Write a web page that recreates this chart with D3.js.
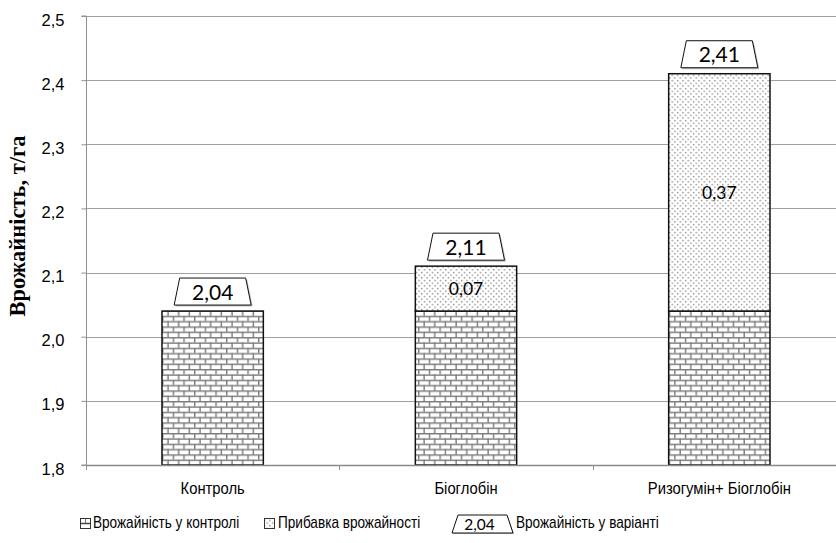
<!DOCTYPE html>
<html>
<head>
<meta charset="utf-8">
<script src="https://cdn.jsdelivr.net/npm/d3@7"></script>
<style>
  html, body { margin: 0; padding: 0; background: #fff; }
  svg { display: block; }
</style>
</head>
<body>
<svg id="chart" width="836" height="543"></svg>
<script>
const categories = ["Контроль", "Біоглобін", "Ризогумін+ Біоглобін"];
const controlYield = [2.04, 2.04, 2.04];
const yieldIncrease = [0, 0.07, 0.37];
const variantYield = [2.04, 2.11, 2.41];
const yTicks = [1.8, 1.9, 2.0, 2.1, 2.2, 2.3, 2.4, 2.5];
const legendLabels = ["Врожайність у контролі", "Прибавка врожайності", "Врожайність у варіанті"];
const legendSample = "2,04";
const yTitle = "Врожайність, т/га";

const W = 836, H = 543;
const margin = { left: 86, top: 16, bottom: 465, right: 846 };
const svg = d3.select("#chart");

const fmt = (v, d) => d3.format("." + d + "f")(v).replace(".", ",");

const x = d3.scaleBand().domain(categories).range([margin.left, margin.right])
  .paddingInner(0.6).paddingOuter(0.3);
const step = x.step();
const y = d3.scaleLinear().domain([1.8, 2.5]).range([margin.bottom, margin.top]);

// patterns
const defs = svg.append("defs");
const bw = 10.67, bh = 5.33, mc = "#7a7a7a";
const brick = defs.append("pattern").attr("id", "brick").attr("patternUnits", "userSpaceOnUse")
  .attr("width", bw).attr("height", bh * 2).attr("x", x(categories[0])).attr("y", margin.bottom);
brick.append("rect").attr("width", bw).attr("height", bh * 2).attr("fill", "#fff");
brick.append("rect").attr("x", 0).attr("y", 0).attr("width", bw).attr("height", 1.4).attr("fill", mc);
brick.append("rect").attr("x", 0).attr("y", bh).attr("width", bw).attr("height", 1.4).attr("fill", mc);
brick.append("rect").attr("x", 0).attr("y", 0).attr("width", 1.4).attr("height", bh).attr("fill", mc);
brick.append("rect").attr("x", bw / 2).attr("y", bh).attr("width", 1.4).attr("height", bh).attr("fill", mc);

const dots = defs.append("pattern").attr("id", "dots").attr("patternUnits", "userSpaceOnUse")
  .attr("width", 5.33).attr("height", 5.33);
dots.append("rect").attr("width", 5.33).attr("height", 5.33).attr("fill", "#fff");
dots.append("rect").attr("x", 0).attr("y", 0).attr("width", 1.33).attr("height", 1.33).attr("fill", "#858585");
dots.append("rect").attr("x", 2.67).attr("y", 2.67).attr("width", 1.33).attr("height", 1.33).attr("fill", "#858585");

// gridlines
svg.append("g").selectAll("line").data(yTicks).join("line")
  .attr("x1", margin.left).attr("x2", W)
  .attr("y1", d => Math.round(y(d)) + 0.5).attr("y2", d => Math.round(y(d)) + 0.5)
  .attr("stroke", "#a0a0a0").attr("stroke-width", 1);

// y axis
const yAxis = d3.axisLeft(y).tickValues(yTicks).tickSize(5).tickFormat(d => fmt(d, 1));
const gy = svg.append("g").attr("transform", `translate(${margin.left + 0.5},0)`).call(yAxis);
gy.select(".domain").attr("stroke", "#909090").attr("d", `M-5,${margin.top}H0V${margin.bottom}H-5`);
gy.selectAll(".tick line").attr("stroke", "#909090");
gy.selectAll(".tick text").attr("x", -22).attr("dy", "0.55em")
  .attr("font-family", "'Liberation Sans', Arial, sans-serif").attr("font-size", 16.5).attr("fill", "#000");

// bars - control part
svg.append("g").selectAll("rect").data(categories).join("rect")
  .attr("x", d => x(d)).attr("width", x.bandwidth())
  .attr("y", (d, i) => y(controlYield[i])).attr("height", (d, i) => y(1.8) - y(controlYield[i]))
  .attr("fill", "url(#brick)").attr("stroke", "#111").attr("stroke-width", 1.5);

// bars - increase part
svg.append("g").selectAll("rect").data(categories.filter((d, i) => yieldIncrease[i] > 0)).join("rect")
  .attr("x", d => x(d)).attr("width", x.bandwidth())
  .attr("y", d => y(controlYield[categories.indexOf(d)] + yieldIncrease[categories.indexOf(d)]))
  .attr("height", d => { const i = categories.indexOf(d); return y(controlYield[i]) - y(controlYield[i] + yieldIncrease[i]); })
  .attr("fill", "url(#dots)").attr("stroke", "#111").attr("stroke-width", 1.5);

// increase labels
svg.append("g").selectAll("text").data(categories.filter((d, i) => yieldIncrease[i] > 0)).join("text")
  .attr("x", d => x(d) + x.bandwidth() / 2)
  .attr("y", d => { const i = categories.indexOf(d); return (y(controlYield[i]) + y(controlYield[i] + yieldIncrease[i])) / 2; })
  .attr("dy", "0.36em").attr("text-anchor", "middle")
  .attr("font-family", "Lato, 'Open Sans', sans-serif").attr("font-size", 17.5).attr("fill", "#000")
  .text(d => fmt(yieldIncrease[categories.indexOf(d)], 2));

// x axis line and ticks
svg.append("line").attr("x1", margin.left).attr("x2", W)
  .attr("y1", margin.bottom + 0.5).attr("y2", margin.bottom + 0.5).attr("stroke", "#8a8a8a").attr("stroke-width", 1.5);
const xb = [0, 1, 2, 3].map(k => margin.left + k * step);
svg.append("g").selectAll("line").data(xb).join("line")
  .attr("x1", d => Math.round(d) + 0.5).attr("x2", d => Math.round(d) + 0.5)
  .attr("y1", margin.bottom).attr("y2", margin.bottom + 5).attr("stroke", "#909090");

// x labels (slightly condensed sans, like Arial Narrow)
svg.append("g").selectAll("text").data(categories).join("text")
  .attr("transform", d => `translate(${x(d) + x.bandwidth() / 2},494) scale(0.87,1)`)
  .attr("text-anchor", "middle")
  .attr("font-family", "'Liberation Sans', Arial, sans-serif").attr("font-size", 17).attr("fill", "#000")
  .text(d => d);

// total labels in trapezoid boxes
function trap(cx, yb, wb, wt, h) {
  return [[cx - wb / 2, yb], [cx - wt / 2, yb - h], [cx + wt / 2, yb - h], [cx + wb / 2, yb]];
}
const boxG = svg.append("g");
categories.forEach((c, i) => {
  const cx = x(c) + x.bandwidth() / 2;
  const yb = y(variantYield[i]) - 6;
  const pts = trap(cx, yb, 77, 66, 27);
  boxG.append("polygon").attr("points", pts.map(p => [p[0] + 1.5, p[1] + 1.5].join(",")).join(" "))
    .attr("fill", "#bbb");
  boxG.append("polygon").attr("points", pts.map(p => p.join(",")).join(" "))
    .attr("fill", "#fff").attr("stroke", "#111").attr("stroke-width", 1);
  boxG.append("text").attr("x", cx).attr("y", yb - 5.5).attr("text-anchor", "middle")
    .attr("font-family", "Lato, 'Open Sans', sans-serif").attr("font-size", 21).attr("fill", "#000")
    .text(fmt(variantYield[i], 2));
});

// y title
svg.append("text").attr("transform", "translate(25,226) rotate(-90)").attr("text-anchor", "middle")
  .attr("font-family", "'Liberation Serif', 'Times New Roman', serif").attr("font-weight", "bold")
  .attr("font-size", 22.5).attr("fill", "#000").text(yTitle);

// legend
const lg = svg.append("g");
const lf = "'Liberation Sans', Arial, sans-serif", lfs = 16, lby = 528, lsx = 0.85;
function legText(xp, t) {
  lg.append("text").attr("transform", `translate(${xp},${lby}) scale(${lsx},1)`)
    .attr("font-family", lf).attr("font-size", lfs).attr("fill", "#000").text(t);
}
lg.append("rect").attr("x", 80.5).attr("y", 518.5).attr("width", 10).attr("height", 10)
  .attr("fill", "#fff").attr("stroke", "#333").attr("stroke-width", 1);
lg.append("line").attr("x1", 81).attr("x2", 90).attr("y1", 523.5).attr("y2", 523.5).attr("stroke", "#444").attr("stroke-width", 1.5);
lg.append("line").attr("x1", 85.5).attr("x2", 85.5).attr("y1", 519).attr("y2", 523).attr("stroke", "#777").attr("stroke-width", 1);
legText(93, legendLabels[0]);

lg.append("rect").attr("x", 264.5).attr("y", 518.5).attr("width", 10).attr("height", 10)
  .attr("fill", "url(#dots)").attr("stroke", "#333").attr("stroke-width", 1);
legText(278, legendLabels[1]);

const lpts = trap(482.5, 533, 61, 49, 18);
lg.append("polygon").attr("points", lpts.map(p => [p[0] + 1, p[1] + 1].join(",")).join(" ")).attr("fill", "#bbb");
lg.append("polygon").attr("points", lpts.map(p => p.join(",")).join(" "))
  .attr("fill", "#fff").attr("stroke", "#111").attr("stroke-width", 1);
lg.append("text").attr("x", 479.5).attr("y", 529.5).attr("text-anchor", "middle")
  .attr("font-family", "Lato, 'Open Sans', sans-serif").attr("font-size", 15.5).text(legendSample);
legText(516, legendLabels[2]);
</script>
</body>
</html>
